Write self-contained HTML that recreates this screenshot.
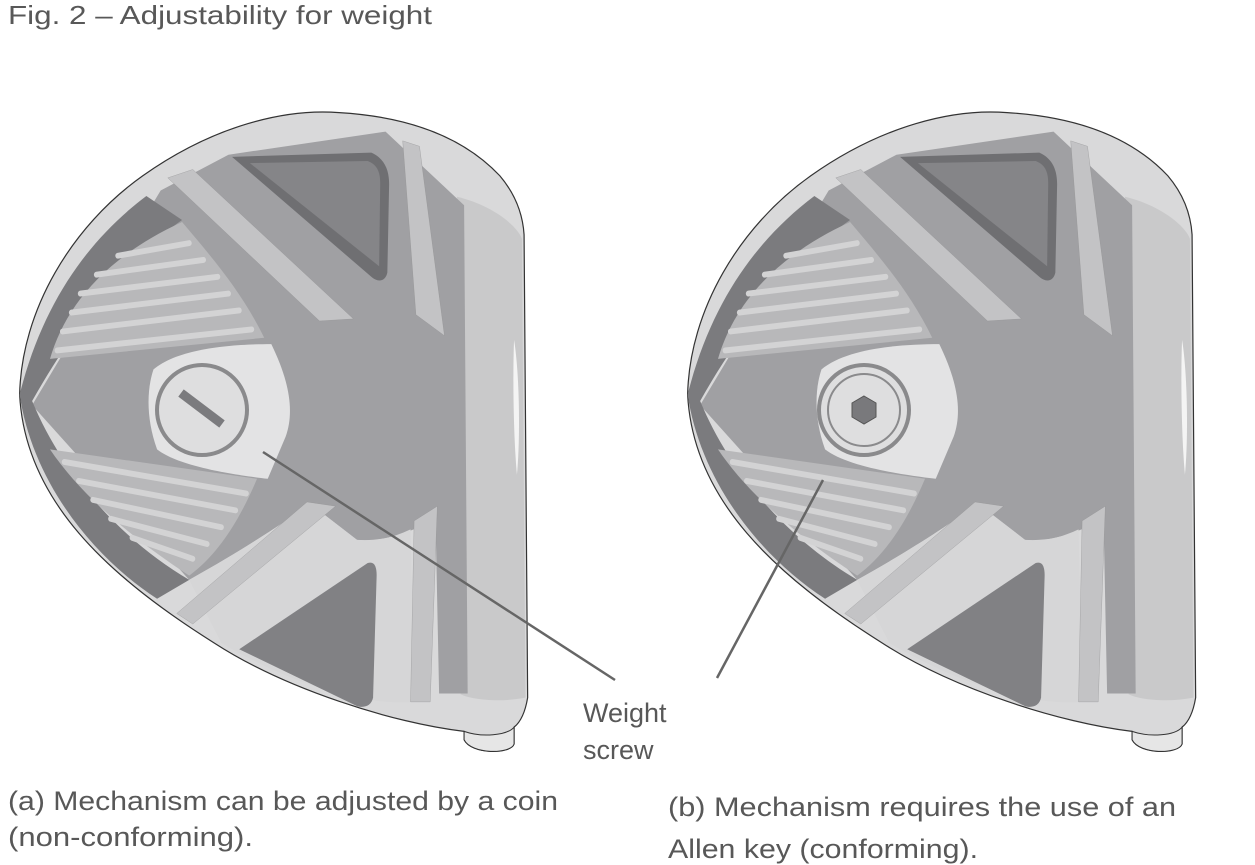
<!DOCTYPE html>
<html><head><meta charset="utf-8"><style>
html,body{margin:0;padding:0;background:#fff;}
svg{display:block;}
text{font-family:"Liberation Sans",sans-serif;fill:#585858;}
</style></head><body>
<svg width="1255" height="865" viewBox="0 0 1255 865" xmlns="http://www.w3.org/2000/svg">
<defs>
<g id="club">
 <g transform="translate(0,100) scale(0.357,0.4209)">
  <!-- shell -->
  <path d="M55,700 C60,500 200,300 400,180 C600,60 800,20 950,30 C1150,40 1300,90 1400,180 C1450,230 1465,280 1468,320 L1478,1420 C1470,1460 1455,1480 1440,1490 L1440,1530 C1430,1555 1320,1555 1300,1520 L1300,1500 C1100,1480 800,1400 600,1290 C300,1130 70,950 55,700 Z" fill="#d9d9da" stroke="#333" stroke-width="1.2" vector-effect="non-scaling-stroke"/>
  <!-- right lighter band -->
  <path d="M1280,230 C1380,250 1450,300 1462,330 L1472,1420 C1400,1432 1320,1425 1290,1412 Z" fill="#c9c9ca"/>
  <!-- body mid gray -->
  <path d="M450,215 L640,130 L1080,75 L1300,250 L1310,1410 L1230,1410 L1220,1000 C1150,1020 1100,1050 1000,1045 L870,960 C800,1000 700,1060 530,1140 L90,725 Z" fill="#a0a0a3"/>
  <!-- lower light area around bottom triangle -->
  <path d="M530,1140 C700,1060 800,1000 870,960 L1000,1045 C1050,1050 1100,1040 1150,1020 L1160,1430 C1000,1440 800,1380 620,1290 Z" fill="#d6d6d7"/>
  <!-- dark rim -->
  <path d="M55,700 C120,480 250,330 410,228 L510,285 C350,380 200,550 90,715 C180,900 350,1050 530,1140 L440,1185 C250,1080 90,900 55,700 Z" fill="#7b7b7e"/>
  <!-- face upper stripes -->
  <path d="M140,615 C180,500 280,380 510,290 C600,380 680,460 740,565 Z" fill="#b8b8ba"/>
  <g stroke="#d3d3d4" stroke-width="14" stroke-linecap="round" vector-effect="non-scaling-stroke">
   <line x1="330" y1="370" x2="530" y2="340"/>
   <line x1="270" y1="415" x2="570" y2="380"/>
   <line x1="225" y1="460" x2="610" y2="420"/>
   <line x1="200" y1="505" x2="640" y2="460"/>
   <line x1="175" y1="550" x2="670" y2="500"/>
   <line x1="160" y1="595" x2="705" y2="545"/>
  </g>
  <!-- face lower stripes -->
  <path d="M140,830 L720,900 C670,1000 610,1080 530,1130 C350,1030 220,930 140,830 Z" fill="#b8b8ba"/>
  <g stroke="#d3d3d4" stroke-width="14" stroke-linecap="round" vector-effect="non-scaling-stroke">
   <line x1="180" y1="860" x2="690" y2="935"/>
   <line x1="220" y1="905" x2="660" y2="975"/>
   <line x1="260" y1="950" x2="620" y2="1015"/>
   <line x1="310" y1="995" x2="580" y2="1055"/>
   <line x1="370" y1="1040" x2="540" y2="1090"/>
  </g>
  <!-- screw plate -->
  <path d="M430,640 C500,590 650,580 760,580 C800,650 830,730 800,800 L750,900 C650,890 500,870 440,830 C410,760 410,690 430,640 Z" fill="#e3e3e4"/>
  <!-- top dark triangle -->
  <path d="M650,135 L1040,125 C1080,140 1090,170 1090,200 L1085,410 C1080,430 1060,435 1040,420 Z" fill="#6f6f72"/>
  <path d="M700,150 L1030,145 C1060,155 1065,175 1065,200 L1062,395 Z" fill="#858588"/>
  <!-- bottom dark triangle -->
  <path d="M670,1305 L1030,1100 C1050,1095 1055,1110 1055,1130 L1045,1420 C1040,1440 1020,1445 1000,1440 Z" fill="#818184"/>
  <!-- strips -->
  <g fill="#c3c3c5" stroke="#8e8e90" stroke-width="0.8" vector-effect="non-scaling-stroke">
   <path d="M470,185 L540,165 L990,520 L895,525 Z"/>
   <path d="M1128,97 L1175,110 L1245,560 L1165,510 Z"/>
   <path d="M495,1220 L860,955 L940,965 L540,1245 Z"/>
   <path d="M1160,1000 L1225,965 L1205,1430 L1150,1430 Z"/>
  </g>
  <!-- highlight -->
  <path d="M1440,570 C1455,650 1458,800 1448,890 C1438,800 1436,650 1440,570 Z" fill="#f4f4f4"/>
  <!-- hosel -->
  <path d="M1300,1500 C1350,1515 1420,1510 1440,1490 L1440,1530 C1430,1555 1320,1555 1300,1520 Z" fill="#e6e6e6" stroke="#333" stroke-width="1" vector-effect="non-scaling-stroke"/>
 </g>
</g>
</defs>

<text x="8" y="24" font-size="26" textLength="424" lengthAdjust="spacingAndGlyphs">Fig. 2 – Adjustability for weight</text>

<use href="#club"/>
<!-- left screw -->
<circle cx="202" cy="410" r="45" fill="#dededf" stroke="#8a8a8c" stroke-width="4"/>
<line x1="181" y1="393" x2="222" y2="424" stroke="#7b7b7e" stroke-width="9"/>

<use href="#club" transform="translate(668,0)"/>
<!-- right screw -->
<circle cx="864" cy="410" r="45" fill="#dededf" stroke="#8a8a8c" stroke-width="4"/>
<circle cx="864" cy="410" r="36" fill="none" stroke="#8a8a8c" stroke-width="2"/>
<polygon points="864,396 876,403 876,417 864,424 852,417 852,403" fill="#79797c" stroke="#555" stroke-width="1"/>

<!-- leaders -->
<line x1="263" y1="452" x2="615" y2="680" stroke="#666" stroke-width="2.5"/>
<line x1="823" y1="480" x2="717" y2="678" stroke="#666" stroke-width="2.5"/>

<text x="583" y="722" font-size="27">Weight</text>
<text x="583" y="759" font-size="27">screw</text>

<text x="8" y="810" font-size="27" textLength="550" lengthAdjust="spacingAndGlyphs">(a) Mechanism can be adjusted by a coin</text>
<text x="8" y="846" font-size="27" textLength="245" lengthAdjust="spacingAndGlyphs">(non-conforming).</text>
<text x="668" y="816" font-size="27" textLength="508" lengthAdjust="spacingAndGlyphs">(b) Mechanism requires the use of an</text>
<text x="668" y="858" font-size="27" textLength="310" lengthAdjust="spacingAndGlyphs">Allen key (conforming).</text>
</svg>
</body></html>
